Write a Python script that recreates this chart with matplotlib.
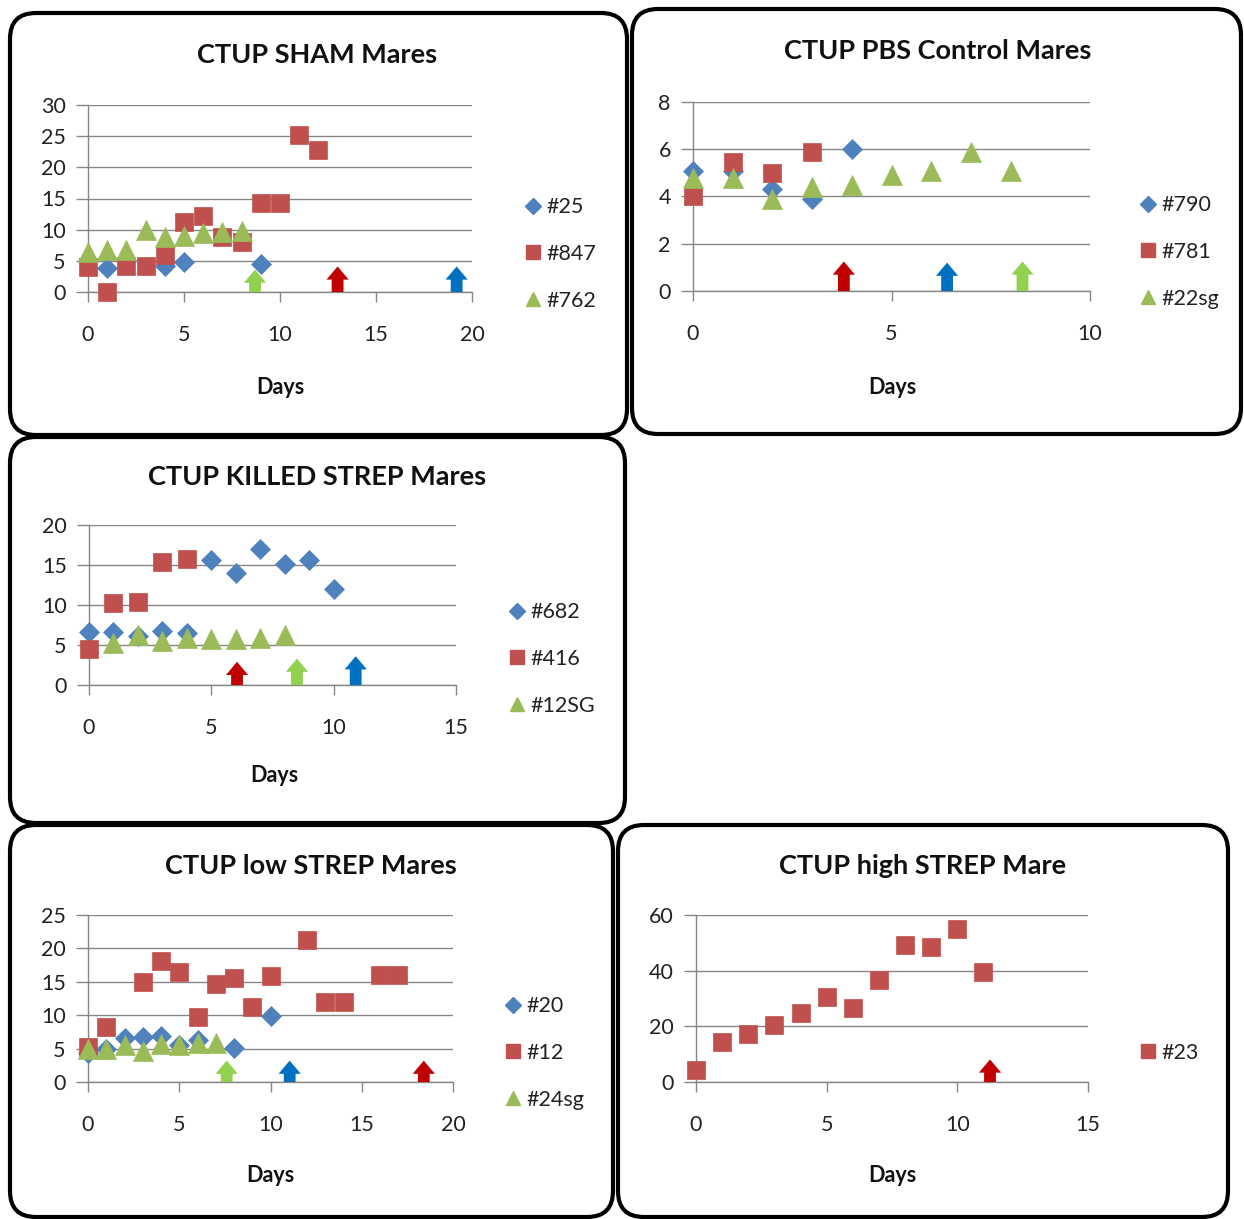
import matplotlib
matplotlib.use("Agg")
import matplotlib.pyplot as plt
from matplotlib.patches import FancyBboxPatch
from matplotlib.lines import Line2D

plt.rcParams["font.family"] = ["Lato", "DejaVu Sans"]

W, H = 1244, 1219
BLUE, RED, GREEN = "#4F81BD", "#C0504D", "#9BBB59"
ARROW_RED, ARROW_BLUE, ARROW_GREEN = "#C00000", "#0070C0", "#92D050"

# ---- CTUP SHAM Mares ----
sham_25_days = [1, 4, 5, 9]
sham_25 = [3.8, 4.1, 4.8, 4.5]
sham_847_days = [0, 1, 2, 3, 4, 5, 6, 7, 8, 9, 10, 11, 12]
sham_847 = [4.0, 0.0, 4.2, 4.2, 6.0, 11.2, 12.2, 8.8, 8.1, 14.2, 14.2, 25.2, 22.8]
sham_762_days = [0, 1, 2, 3, 4, 5, 6, 7, 8]
sham_762 = [6.4, 6.7, 6.7, 9.9, 8.8, 9.0, 9.5, 9.6, 9.8]
sham_arrow_days = [8.7, 13.0, 19.2]
sham_arrow_tops = [3.6, 4.1, 4.1]

# ---- CTUP PBS Control Mares ----
pbs_790_days = [0, 1, 2, 3, 4]
pbs_790 = [5.1, 5.1, 4.3, 3.9, 6.0]
pbs_781_days = [0, 1, 2, 3]
pbs_781 = [4.0, 5.45, 5.0, 5.9]
pbs_22sg_days = [0, 1, 2, 3, 4, 5, 6, 7, 8]
pbs_22sg = [4.8, 4.8, 3.9, 4.4, 4.5, 4.9, 5.1, 5.9, 5.1]
pbs_arrow_days = [3.8, 6.4, 8.3]
pbs_arrow_tops = [1.25, 1.2, 1.25]

# ---- CTUP KILLED STREP Mares ----
killed_682_days = [0, 1, 2, 3, 4, 5, 6, 7, 8, 9, 10]
killed_682 = [6.6, 6.6, 6.1, 6.8, 6.5, 15.6, 14.0, 17.0, 15.1, 15.6, 12.0]
killed_416_days = [0, 1, 2, 3, 4]
killed_416 = [4.5, 10.2, 10.4, 15.4, 15.8]
killed_12sg_days = [1, 2, 3, 4, 5, 6, 7, 8]
killed_12sg = [5.3, 6.3, 5.5, 5.9, 5.8, 5.8, 5.9, 6.3]
killed_arrow_days = [6.05, 8.5, 10.9]
killed_arrow_tops = [2.9, 3.3, 3.6]

# ---- CTUP low STREP Mares ----
low_20_days = [0, 1, 2, 3, 4, 5, 6, 8, 10]
low_20 = [4.3, 5.0, 6.6, 6.7, 6.9, 5.6, 6.3, 5.1, 9.9]
low_12_days = [0, 1, 3, 4, 5, 6, 7, 8, 9, 10, 12, 13, 14, 16, 17]
low_12 = [5.3, 8.2, 15.0, 18.1, 16.4, 9.7, 14.7, 15.5, 11.2, 15.9, 21.2, 12.0, 12.0, 16.0, 16.0]
low_24sg_days = [0, 1, 2, 3, 4, 5, 6, 7]
low_24sg = [5.0, 5.0, 5.5, 4.7, 5.7, 5.5, 5.8, 5.9]
low_arrow_days = [7.6, 11.05, 18.4]
low_arrow_tops = [3.2, 3.2, 3.2]

# ---- CTUP high STREP Mare ----
high_23_days = [0, 1, 2, 3, 4, 5, 6, 7, 8, 9, 10, 11]
high_23 = [4.3, 14.4, 17.4, 20.5, 24.7, 30.5, 26.7, 36.6, 49.1, 48.5, 54.9, 39.5]
high_arrow_days = [11.25]
high_arrow_tops = [8.1]

fig = plt.figure(figsize=(W / 100, H / 100), dpi=100)


def fx(x):
    return x / W


def fy(y):
    return 1 - y / H


def rounded_box(x0, y0, x1, y1):
    # frame drawn in inches so the corner radius stays circular
    patch = FancyBboxPatch((x0 / 100, (H - y1) / 100), (x1 - x0) / 100, (y1 - y0) / 100,
                           boxstyle="round,pad=0,rounding_size=0.26",
                           transform=fig.dpi_scale_trans, fc="none", ec="black",
                           lw=3.0, zorder=0)
    fig.patches.append(patch)


def panel(rect_px, xmax, ymax, ystep, series, arrows, title, title_xy, days_xy, leg_xy):
    x0, y0, x1, y1 = rect_px
    ax = fig.add_axes([fx(x0), fy(y1), fx(x1 - x0), (y1 - y0) / H])
    ax.set_xlim(0, xmax)
    ax.set_ylim(0, ymax)
    ax.set_xticks(range(0, xmax + 1, 5))
    ax.set_yticks(range(0, ymax + 1, ystep))
    for s in ["top", "right"]:
        ax.spines[s].set_visible(False)
    for s in ["left", "bottom"]:
        ax.spines[s].set_color("#868686")
        ax.spines[s].set_linewidth(1.0)
    ax.yaxis.grid(True, color="#868686", lw=1.0)
    ax.set_axisbelow(True)
    ax.tick_params(axis="y", length=9, width=1.0, color="#868686", pad=7,
                   labelsize=15.5, labelcolor="#222222")
    ax.tick_params(axis="x", length=7, width=1.0, color="#868686", pad=17,
                   labelsize=15.5, labelcolor="#222222")

    handles = []
    for days, vals, marker, color, ms, lms, label in series:
        ax.plot(days, vals, ls="none", marker=marker, ms=ms, mfc=color, mec=color,
                mew=0.5, clip_on=False, zorder=3)
        handles.append(Line2D([], [], ls="none", marker=marker, ms=lms, mfc=color,
                              mec=color, label=label))

    adays, atops, acolors = arrows
    for d, t, c in zip(adays, atops, acolors):
        ax.annotate("", xy=(d, t), xytext=(d, 0),
                    arrowprops=dict(arrowstyle="simple,head_length=0.95,head_width=1.6,tail_width=0.85",
                                    fc=c, ec="none", shrinkA=0, shrinkB=0),
                    annotation_clip=False, zorder=4)

    fig.text(fx(title_xy[0]), fy(title_xy[1]), title, ha="center", va="center",
             fontsize=19.5, fontweight="bold", color="#111111")
    fig.text(fx(days_xy[0]), fy(days_xy[1]), "Days", ha="center", va="center",
             fontsize=15.5, fontweight="bold", color="#111111")
    ax.legend(handles=handles, loc="center left", bbox_to_anchor=(fx(leg_xy[0]), fy(leg_xy[1])),
              bbox_transform=fig.transFigure, frameon=False, fontsize=15.5,
              handlelength=0.7, handletextpad=0.3, labelspacing=1.25, borderpad=0,
              borderaxespad=0, labelcolor="#222222")
    return ax


rounded_box(10, 13, 627, 435)
rounded_box(632, 9, 1241, 434)
rounded_box(10, 437, 625, 823)
rounded_box(10, 825, 613, 1217)
rounded_box(618, 825, 1228, 1217)

panel((88, 105, 472, 292), 20, 30, 5,
      [(sham_25_days, sham_25, "D", BLUE, 10, 8, "#25"),
       (sham_847_days, sham_847, "s", RED, 13, 10, "#847"),
       (sham_762_days, sham_762, "^", GREEN, 14, 10, "#762")],
      (sham_arrow_days, sham_arrow_tops, [ARROW_GREEN, ARROW_RED, ARROW_BLUE]),
      "CTUP SHAM Mares", (317, 55), (280, 387), (525, 254))

panel((693, 102, 1090, 291), 10, 8, 2,
      [(pbs_790_days, pbs_790, "D", BLUE, 10, 8, "#790"),
       (pbs_781_days, pbs_781, "s", RED, 13, 10, "#781"),
       (pbs_22sg_days, pbs_22sg, "^", GREEN, 14, 10, "#22sg")],
      (pbs_arrow_days, pbs_arrow_tops, [ARROW_RED, ARROW_BLUE, ARROW_GREEN]),
      "CTUP PBS Control Mares", (938, 51), (892, 387), (1140, 252))

panel((89, 525, 456, 685), 15, 20, 5,
      [(killed_682_days, killed_682, "D", BLUE, 10, 8, "#682"),
       (killed_416_days, killed_416, "s", RED, 13, 10, "#416"),
       (killed_12sg_days, killed_12sg, "^", GREEN, 14, 10, "#12SG")],
      (killed_arrow_days, killed_arrow_tops, [ARROW_RED, ARROW_GREEN, ARROW_BLUE]),
      "CTUP KILLED STREP Mares", (317, 477), (274, 776), (509, 659))

panel((88, 915, 453, 1082), 20, 25, 5,
      [(low_20_days, low_20, "D", BLUE, 10, 8, "#20"),
       (low_12_days, low_12, "s", RED, 13, 10, "#12"),
       (low_24sg_days, low_24sg, "^", GREEN, 14, 10, "#24sg")],
      (low_arrow_days, low_arrow_tops, [ARROW_GREEN, ARROW_BLUE, ARROW_RED]),
      "CTUP low STREP Mares", (311, 866), (270, 1176), (505, 1053))

panel((696, 915, 1088, 1082), 15, 60, 20,
      [(high_23_days, high_23, "s", RED, 13, 10, "#23")],
      (high_arrow_days, high_arrow_tops, [ARROW_RED]),
      "CTUP high STREP Mare", (923, 866), (892, 1176), (1140, 1053))

fig.savefig("out.png", dpi=100)
